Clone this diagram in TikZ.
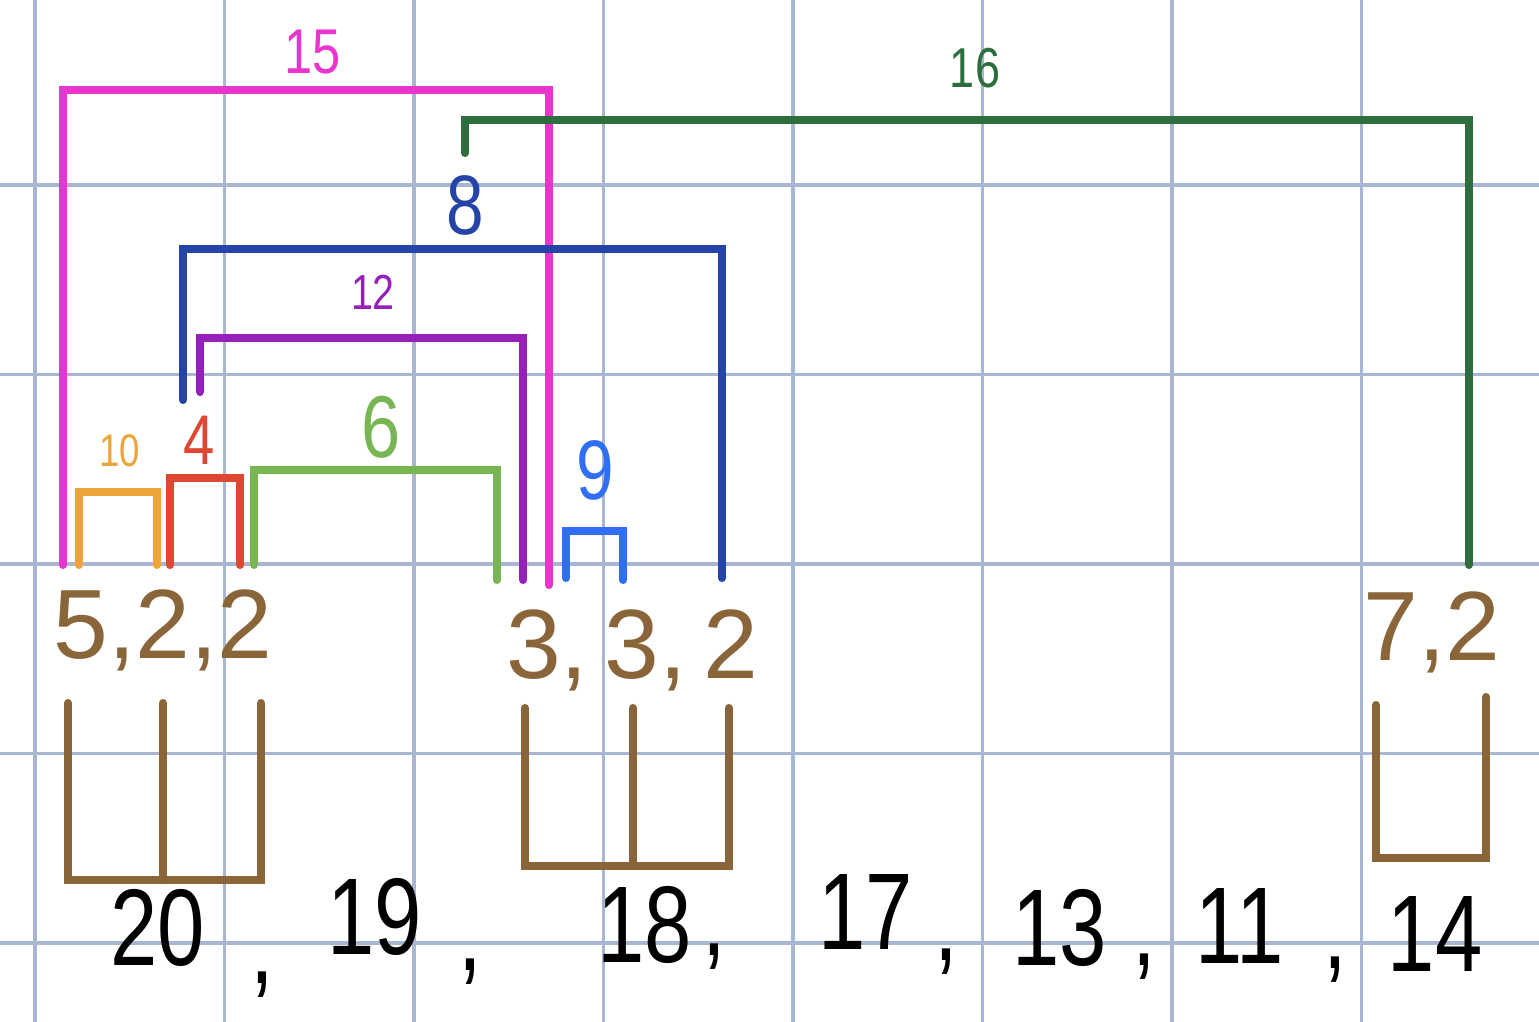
\documentclass[tikz,border=0pt]{standalone}
\usepackage{fontspec}
\setmainfont{Liberation Sans}
\usetikzlibrary{positioning}

\definecolor{gridblue}{HTML}{A8B6D2}
\definecolor{pinkline}{HTML}{E935CE}
\definecolor{darkgreen}{HTML}{2E6E3E}
\definecolor{navyline}{HTML}{2444A8}
\definecolor{purpleline}{HTML}{9620BC}
\definecolor{orangeline}{HTML}{EDA43A}
\definecolor{redline}{HTML}{DE4832}
\definecolor{lightgreen}{HTML}{78B653}
\definecolor{blueline}{HTML}{2F6EF5}
\definecolor{brownline}{HTML}{8A653A}

\tikzset{
  gridline/.style={draw=gridblue, line width=0.9pt},
  bracket/.style={line width=2.3pt, line cap=round},
  arclabel/.style={inner sep=0pt, xscale=0.8, font=\fontsize{#1}{#1}\selectfont},
  countlabel/.style={inner sep=0pt, text=brownline, font=\fontsize{28}{28}\selectfont},
  bignum/.style={inner sep=0pt, xscale=0.78, text=black, font=\fontsize{31}{31}\selectfont}
}

\begin{document}
\begin{tikzpicture}[x=0.01cm, y=-0.01cm]
    \useasboundingbox (0,0) rectangle (1539,1022);
    \fill[white] (0,0) rectangle (1539,1022);

    % Define grid
    \foreach \gx in {0,...,7}
        \draw[gridline] (35+189.5*\gx,0) -- (35+189.5*\gx,1022);
    \foreach \gy in {0,...,4}
        \draw[gridline] (0,185+189.5*\gy) -- (1539,185+189.5*\gy);

    % Define bracket ends
    \coordinate (f15a) at (63,565);   \coordinate (t15) at (306,90);   \coordinate (f15b) at (549,585);
    \coordinate (f16a) at (465,153);  \coordinate (t16) at (967,120);  \coordinate (f16b) at (1469,565);
    \coordinate (f8a) at (183,400);   \coordinate (t8) at (452,249);   \coordinate (f8b) at (722,578);
    \coordinate (f12a) at (200,392);  \coordinate (t12) at (361,338);  \coordinate (f12b) at (523,580);
    \coordinate (f10a) at (79,565);   \coordinate (t10) at (118,492);  \coordinate (f10b) at (157,565);
    \coordinate (f4a) at (170,565);   \coordinate (t4) at (205,478);   \coordinate (f4b) at (240,565);
    \coordinate (f6a) at (254,565);   \coordinate (t6) at (375,470);   \coordinate (f6b) at (497,580);
    \coordinate (f9a) at (566,578);   \coordinate (t9) at (594,531);   \coordinate (f9b) at (623,580);

    % Define brackets
    \draw[bracket, pinkline] (f15a) |- (t15) -| (f15b);
    \draw[bracket, darkgreen] (f16a) |- (t16) -| (f16b);
    \draw[bracket, navyline] (f8a) |- (t8) -| (f8b);
    \draw[bracket, purpleline] (f12a) |- (t12) -| (f12b);
    \draw[bracket, orangeline] (f10a) |- (t10) -| (f10b);
    \draw[bracket, redline] (f4a) |- (t4) -| (f4b);
    \draw[bracket, lightgreen] (f6a) |- (t6) -| (f6b);
    \draw[bracket, blueline] (f9a) |- (t9) -| (f9b);

    % Define bracket labels
    \node[arclabel=18, text=pinkline] (l15) at (313,52) {15};
    \node[arclabel=16, text=darkgreen] (l16) at (975,68) {16};
    \node[arclabel=24, text=navyline] (l8) at (465,205) {8};
    \node[arclabel=14, text=purpleline] (l12) at (373,292) {12};
    \node[arclabel=13, text=orangeline] (l10) at (120,451) {10};
    \node[arclabel=20, text=redline] (l4) at (199,440) {4};
    \node[arclabel=25, text=lightgreen] (l6) at (381,427) {6};
    \node[arclabel=24, text=blueline] (l9) at (595,470) {9};

    % Define groups
    \node[countlabel] (g1) at (163,630) {5,2,2};
    \node[countlabel] (g2) at (632,650) {3,\,3,\,2};
    \node[countlabel] (g3) at (1432,632) {7,2};

    \coordinate (a1) at (68,703);   \coordinate (a2) at (163,703);  \coordinate (a3) at (261,703);  \coordinate (ab) at (261,880);
    \coordinate (b1) at (525,708);  \coordinate (b2) at (633,708);  \coordinate (b3) at (729,708);  \coordinate (bb) at (729,866);
    \coordinate (c1) at (1376,705); \coordinate (c2) at (1486,697); \coordinate (cb) at (1486,858);
    \draw[bracket, brownline] (a1) |- (ab) -- (a3);
    \draw[bracket, brownline] (a2) -- (a2 |- ab);
    \draw[bracket, brownline] (b1) |- (bb) -- (b3);
    \draw[bracket, brownline] (b2) -- (b2 |- bb);
    \draw[bracket, brownline] (c1) |- (cb) -- (c2);

    % Define sequence
    \node[bignum] (n20) at (158,928) {20};
    \node[bignum] (k1) at (262,985) {,};
    \node[bignum] (n19) at (375,917) {19};
    \node[bignum] (k2) at (470,972) {,};
    \node[bignum] (n18) at (645,925) {18};
    \node[bignum] (k3) at (714,957) {,};
    \node[bignum] (n17) at (866,912) {17};
    \node[bignum] (k4) at (946,962) {,};
    \node[bignum] (n13) at (1060,928) {13};
    \node[bignum] (k5) at (1144,967) {,};
    \node[bignum] (n11) at (1240,926) {11};
    \node[bignum] (k6) at (1335,970) {,};
    \node[bignum] (n14) at (1435,934) {14};
\end{tikzpicture}
\end{document}
